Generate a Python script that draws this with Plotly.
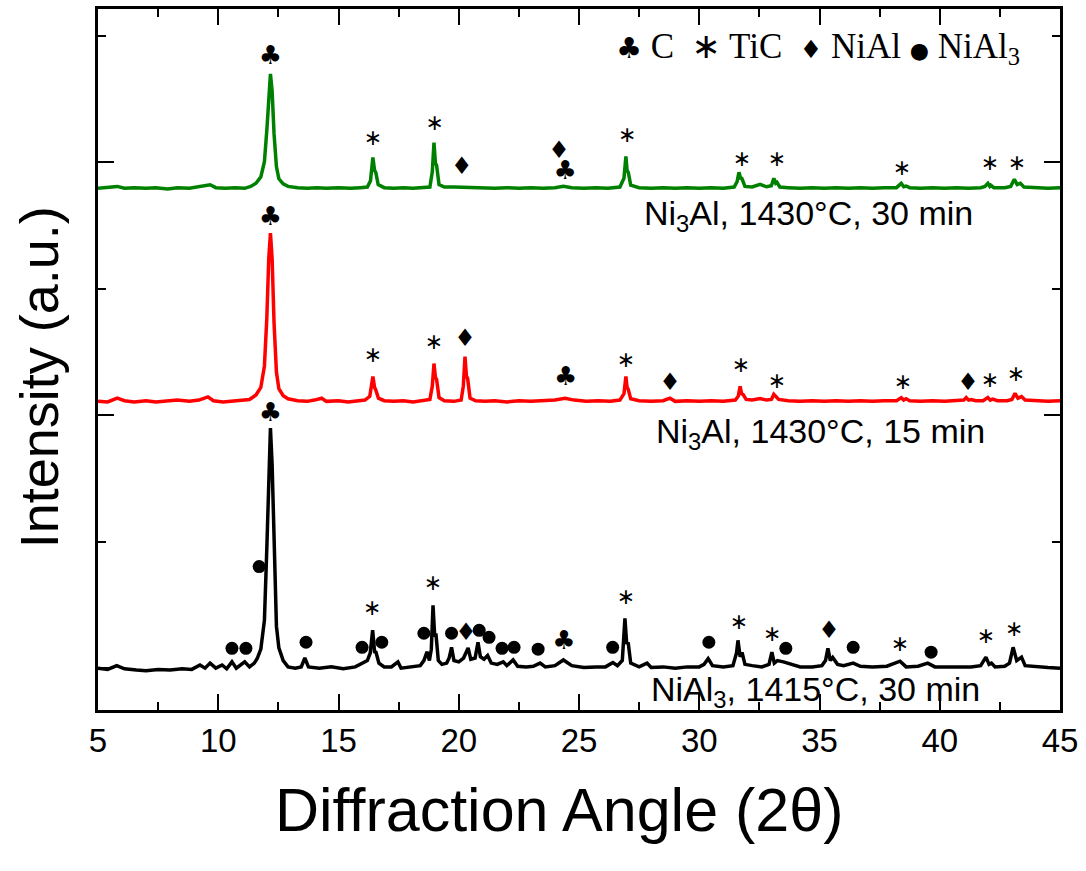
import plotly.graph_objects as go

# ---- XRD patterns (2theta in degrees, intensity in counts above each pattern's own baseline)
# NiAl3, 1415 C, 30 min
tt_nial3 = [5.0, 5.4, 5.78, 6.1, 6.6, 7.0, 7.5, 8.0, 8.5, 8.9, 9.24, 9.45, 9.66, 9.9, 10.16, 10.35,
            10.57, 10.75, 11.1, 11.3, 11.5, 11.62, 11.77, 11.92, 12.02, 12.1, 12.17, 12.24, 12.32,
            12.42, 12.52, 12.7, 12.9, 13.2, 13.45, 13.6, 13.75, 14.2, 14.7, 15.2, 15.7, 16.0, 16.2,
            16.32, 16.42, 16.5, 16.56, 16.68, 16.9, 17.2, 17.47, 17.6, 18.0, 18.4, 18.55, 18.68,
            18.78, 18.86, 18.93, 19.0, 19.05, 19.15, 19.3, 19.5, 19.6, 19.7, 19.8, 20.0, 20.2,
            20.39, 20.5, 20.68, 20.8, 20.9, 21.05, 21.2, 21.35, 21.6, 21.85, 22.0, 22.26, 22.45,
            22.8, 23.1, 23.38, 23.6, 24.0, 24.35, 24.7, 25.2, 25.7, 26.1, 26.41, 26.6, 26.8, 26.91,
            26.98, 27.05, 27.15, 27.5, 27.83, 28.0, 28.5, 29.0, 29.5, 30.0, 30.2, 30.37, 30.55,
            31.0, 31.4, 31.55, 31.61, 31.7, 31.78, 31.9, 32.2, 32.6, 32.9, 33.02, 33.12, 33.25,
            33.5, 33.8, 34.2, 34.7, 35.1, 35.25, 35.35, 35.45, 35.55, 35.75, 36.0, 36.4, 36.7,
            37.2, 37.8, 38.35, 38.6, 39.1, 39.5, 39.8, 40.3, 40.8, 41.3, 41.7, 41.92, 42.05, 42.15,
            42.3, 42.7, 42.9, 43.05, 43.2, 43.4, 43.55, 44.0, 44.5, 45.0]
i_nial3 = [0, -10, 20, -5, -15, -20, -10, -15, -5, -10, 25, 0, 40, 0, 25, -5,
           50, 0, 50, 10, 40, 76, 150, 380, 950, 1610, 1898, 1610, 900,
           330, 160, 60, 10, 0, 10, 80, 10, 0, 10, -5, 10, 40, 60,
           120, 300, 130, 125, 40, 10, 10, 50, 0, 10, 20, 60, 130,
           60, 150, 496, 250, 275, 60, 30, 40, 80, 165, 60, 50, 80,
           160, 70, 80, 205, 90, 70, 100, 40, 30, 50, 20, 65, 15,
           10, 15, 40, 10, 20, 65, 20, 5, 10, 10, 45, 20, 60, 394,
           200, 195, 40, 10, 40, 5, 10, 0, 10, 10, 30, 75, 20,
           10, 20, 120, 220, 90, 125, 30, 20, 10, 30, 126, 40, 60,
           50, 30, 10, 10, 20, 60, 157, 60, 85, 30, 20, 40, 15,
           10, 15, 55, 10, 15, 40, 10, 10, 15, 10, 20, 87, 30, 40,
           10, 15, 40, 165, 60, 87, 20, 10, 5, 0]

# Ni3Al, 1430 C, 15 min
tt_15 = [5.0, 5.4, 5.8, 6.1, 6.5, 7.0, 7.4, 7.9, 8.3, 8.8, 9.2, 9.57, 9.8, 10.2, 10.6, 11.0, 11.3,
         11.57, 11.77, 11.92, 12.02, 12.1, 12.17, 12.24, 12.32, 12.42, 12.52, 12.7, 12.9, 13.3,
         13.7, 14.0, 14.3, 14.5, 15.0, 15.4, 15.8, 16.1, 16.3, 16.43, 16.5, 16.55, 16.66, 16.9,
         17.3, 17.7, 18.1, 18.5, 18.8, 18.9, 18.97, 19.03, 19.08, 19.18, 19.4, 19.8, 20.1, 20.19,
         20.26, 20.32, 20.37, 20.47, 20.7, 21.1, 21.5, 22.0, 22.5, 23.0, 23.5, 24.0, 24.42, 24.8,
         25.3, 25.8, 26.3, 26.7, 26.87, 26.95, 27.0, 27.05, 27.15, 27.5, 28.0, 28.5, 28.78, 29.0,
         29.5, 30.0, 30.5, 31.0, 31.5, 31.62, 31.7, 31.76, 31.82, 31.95, 32.2, 32.53, 32.8, 33.0,
         33.1, 33.2, 33.3, 33.7, 34.2, 34.7, 35.2, 35.7, 36.2, 36.7, 37.2, 37.7, 38.2, 38.4, 38.5,
         38.6, 38.75, 39.2, 39.7, 40.2, 40.7, 41.0, 41.1, 41.2, 41.3, 41.5, 41.8, 42.0, 42.1, 42.2,
         42.4, 42.8, 43.0, 43.13, 43.25, 43.4, 43.55, 44.0, 44.5, 45.0]
i_15 = [0, -5, 25, 5, -5, 5, -5, 0, 10, 0, 10, 35, 5, -5, 0, 5, 15,
        50, 110, 280, 660, 1130, 1330, 1130, 620, 230, 100, 45, 20, 5,
        0, 10, 25, 0, 5, -5, 5, 10, 40, 197, 110, 90, 25, 5,
        0, 5, -5, 5, 15, 120, 299, 190, 173, 30, 5, 0, 10, 120,
        354, 200, 181, 25, 5, 0, 5, -5, 5, 0, 5, 10, 25, 10,
        0, 5, 0, 10, 60, 197, 110, 94, 20, 5, 0, 5, 25, 0,
        5, 0, 5, 0, 10, 40, 118, 60, 55, 15, 10, 22, 10, 15,
        55, 30, 15, 5, 0, 5, 0, 5, 0, 5, 0, 5, 5, 28, 10,
        20, 5, 0, 5, 0, 5, 10, 30, 10, 15, 5, 5, 30, 10, 18,
        5, 5, 15, 63, 25, 38, 10, 5, 0, 5]

# Ni3Al, 1430 C, 30 min
tt_30 = [5.0, 5.4, 5.8, 6.1, 6.5, 7.0, 7.4, 7.9, 8.3, 8.8, 9.2, 9.66, 9.9, 10.3, 10.7, 11.1, 11.35,
         11.57, 11.77, 11.92, 12.02, 12.1, 12.17, 12.24, 12.32, 12.42, 12.52, 12.7, 12.9, 13.3,
         13.7, 14.1, 14.5, 15.0, 15.5, 15.9, 16.2, 16.33, 16.43, 16.5, 16.55, 16.65, 16.9, 17.3,
         17.7, 18.1, 18.5, 18.8, 18.9, 18.97, 19.03, 19.08, 19.18, 19.4, 19.8, 20.2, 20.6, 21.0,
         21.5, 22.0, 22.5, 23.0, 23.5, 24.0, 24.35, 24.7, 25.2, 25.7, 26.2, 26.7, 26.87, 26.95,
         27.0, 27.05, 27.15, 27.5, 28.0, 28.5, 29.0, 29.5, 30.0, 30.5, 31.0, 31.45, 31.57, 31.65,
         31.72, 31.77, 31.9, 32.2, 32.53, 32.8, 33.0, 33.1, 33.18, 33.23, 33.35, 33.7, 34.2, 34.7,
         35.2, 35.7, 36.2, 36.7, 37.2, 37.7, 38.2, 38.4, 38.5, 38.6, 38.75, 39.2, 39.7, 40.2, 40.7,
         41.2, 41.7, 41.88, 42.0, 42.08, 42.12, 42.25, 42.7, 42.95, 43.1, 43.22, 43.35, 43.5, 44.0,
         44.5, 45.0]
i_30 = [0, 5, 15, 0, 5, 0, 5, -5, 5, 0, 10, 28, 5, 0, 5, 0, 15,
        40, 90, 210, 460, 770, 905, 770, 430, 170, 75, 35, 15, 5,
        0, 5, 0, 5, 0, 5, 10, 60, 244, 140, 126, 30, 5, 0,
        5, 0, 5, 10, 130, 362, 200, 181, 30, 10, 10, 8, 10, 5,
        0, 5, 0, 5, 0, 5, 16, 5, 0, 5, 0, 10, 80, 252,
        140, 126, 25, 5, 0, 5, 0, 5, 0, 5, 0, 10, 50, 126,
        80, 79, 15, 10, 31, 12, 20, 79, 40, 47, 10, 5, 0, 5,
        0, 5, 0, 5, 0, 5, 5, 39, 12, 18, 5, 0, 5, 0, 5,
        0, 5, 15, 39, 15, 24, 5, 5, 15, 71, 30, 39, 10, 5,
        0, 5]

# vertical stacking offsets of the three patterns (counts)
offset_nial3 = 0
offset_15 = 2110
offset_30 = 3795

# ---- phase markers (2theta, absolute plotted intensity)
club_x = [12.17, 24.37, 12.17, 24.45, 12.17, 24.42]
club_y = [2008, 205, 3559, 2291, 4827, 3921]

tic_x = [16.4, 18.93, 26.95, 31.65, 33.03, 38.35, 41.92, 43.1,
         16.43, 18.97, 26.95, 31.73, 33.23, 38.47, 42.09, 43.17,
         16.43, 19.0, 27.0, 31.78, 33.23, 38.43, 42.09, 43.21]
tic_y = [465, 661, 551, 354, 260, 181, 244, 299,
         2465, 2567, 2425, 2386, 2260, 2252, 2268, 2315,
         4181, 4299, 4205, 4016, 4016, 3945, 3984, 3984]

nial_x = [20.3, 35.4, 20.26, 28.78, 41.17, 20.13, 24.17]
nial_y = [268, 283, 2598, 2244, 2244, 3953, 4080]

nial3_x = [10.57, 11.15, 11.7, 13.65, 15.98, 16.8, 18.55, 19.7, 20.85, 21.26, 21.8, 22.3,
           23.3, 26.4, 30.4, 33.6, 36.4, 39.64]
nial3_y = [157, 157, 803, 205, 165, 205, 276, 276, 299, 244, 157, 165,
           150, 165, 205, 157, 165, 126]

sample_labels = ["Ni<sub>3</sub>Al, 1430°C, 30 min",
                 "Ni<sub>3</sub>Al, 1430°C, 15 min",
                 "NiAl<sub>3</sub>, 1415°C, 30 min"]

SANS = "Liberation Sans, Arial, sans-serif"
SERIF = "Liberation Serif, Times New Roman, serif"
SYM = "DejaVu Sans"

fig = go.Figure()

for tt, inten, off, col in [(tt_nial3, i_nial3, offset_nial3, "#000000"),
                            (tt_15, i_15, offset_15, "#ff0000"),
                            (tt_30, i_30, offset_30, "#008000")]:
    fig.add_trace(go.Scatter(x=tt, y=[v + off for v in inten], mode="lines",
                             line=dict(color=col, width=3.5), showlegend=False,
                             hoverinfo="skip"))

fig.add_trace(go.Scatter(x=club_x, y=club_y, mode="text", text=["♣"] * len(club_x),
                         textfont=dict(family=SYM, size=26, color="black"),
                         textposition="middle center", showlegend=False))
fig.add_trace(go.Scatter(x=tic_x, y=tic_y, mode="text", text=["∗"] * len(tic_x),
                         textfont=dict(family=SYM, size=22, color="black"),
                         textposition="middle center", showlegend=False))
fig.add_trace(go.Scatter(x=nial_x, y=nial_y, mode="text", text=["♦"] * len(nial_x),
                         textfont=dict(family=SYM, size=24, color="black"),
                         textposition="middle center", showlegend=False))
fig.add_trace(go.Scatter(x=nial3_x, y=nial3_y, mode="markers",
                         marker=dict(symbol="circle", size=13, color="black"),
                         showlegend=False))

annotations = [
    dict(text="Intensity (a.u.)", xref="paper", yref="paper", x=-0.061, y=0.475,
         textangle=-90, showarrow=False, xanchor="center", yanchor="middle",
         font=dict(family=SANS, size=54, color="black")),
    dict(text="Diffraction Angle (2θ)", xref="paper", yref="paper", x=0.48, y=-0.142,
         showarrow=False, xanchor="center", yanchor="middle",
         font=dict(family=SANS, size=61, color="black")),
    dict(text="<span style='font-family:DejaVu Sans;font-size:29px'>♣</span> C  "
              "<span style='font-family:DejaVu Sans'>∗</span> TiC  "
              "<span style='font-family:DejaVu Sans;font-size:25px'>♦</span> NiAl "
              "<span style='font-family:DejaVu Sans;font-size:22px'>●</span> NiAl<sub>3</sub>",
         xref="paper", yref="paper", x=0.748, y=0.944, showarrow=False,
         xanchor="center", yanchor="middle",
         font=dict(family=SERIF, size=35, color="black")),
]
for lbl, px, py in zip(sample_labels, [0.739, 0.751, 0.746], [0.706, 0.395, 0.026]):
    annotations.append(dict(text=lbl, xref="paper", yref="paper", x=px, y=py,
                            showarrow=False, xanchor="center", yanchor="middle",
                            font=dict(family=SANS, size=34, color="black")))

fig.update_layout(
    width=1086, height=871,
    margin=dict(l=98, r=26, t=6, b=161),
    paper_bgcolor="white", plot_bgcolor="white",
    annotations=annotations,
    xaxis=dict(range=[5, 45], tick0=5, dtick=5, ticks="inside", ticklen=16, tickwidth=2,
               tickcolor="black", showline=True, linewidth=2.5, linecolor="black",
               mirror="allticks", showgrid=False, zeroline=False,
               tickfont=dict(family=SANS, size=33, color="black"),
               minor=dict(dtick=2.5, ticks="inside", ticklen=8, tickwidth=2,
                          tickcolor="black", showgrid=False)),
    yaxis=dict(range=[-331, 5213], tick0=0, dtick=2000, ticks="inside", ticklen=16,
               tickwidth=2, tickcolor="black", showline=True, linewidth=2.5,
               linecolor="black", mirror="allticks", showgrid=False, zeroline=False,
               showticklabels=False,
               minor=dict(dtick=1000, ticks="inside", ticklen=8, tickwidth=2,
                          tickcolor="black", showgrid=False)),
)

fig.write_html("out.html")
